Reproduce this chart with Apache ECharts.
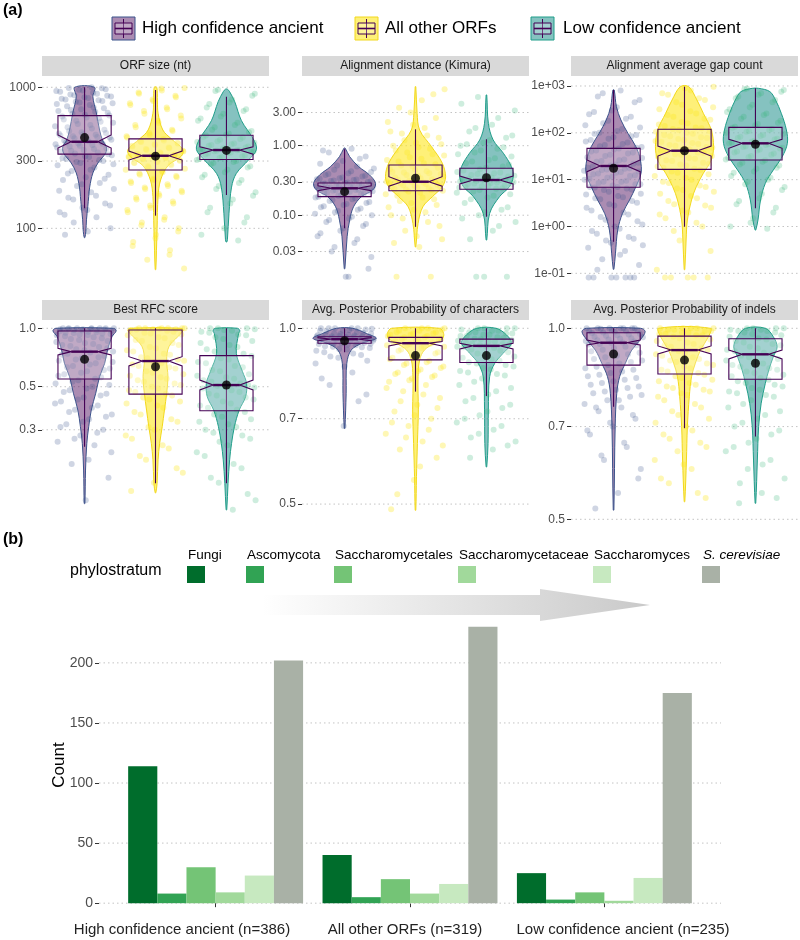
<!DOCTYPE html>
<html><head><meta charset="utf-8">
<script src="https://cdn.jsdelivr.net/npm/echarts@6/dist/echarts.min.js"></script>
<style>html,body{margin:0;padding:0;background:#fff}#c{width:800px;height:940px}</style>
</head><body><div id="c"></div><script>
// ---------------- DATA ----------------
const groups = ['High confidence ancient', 'All other ORFs', 'Low confidence ancient'];
const panelTitles = ['ORF size (nt)', 'Alignment distance (Kimura)', 'Alignment average gap count',
  'Best RFC score', 'Avg. Posterior Probability of characters', 'Avg. Posterior Probability of indels'];

// tick values and labels (log10-scaled axes)
const orfTicks = [100, 300, 1000];            const orfTickLabels = ['100', '300', '1000'];
const kimuraTicks = [0.03, 0.1, 0.3, 1, 3];   const kimuraTickLabels = ['0.03', '0.10', '0.30', '1.00', '3.00'];
const gapTicks = [0.1, 1, 10, 100, 1000];     const gapTickLabels = ['1e-01', '1e+00', '1e+01', '1e+02', '1e+03'];
const rfcTicks = [0.3, 0.5, 1];               const rfcTickLabels = ['0.3', '0.5', '1.0'];
const charTicks = [0.5, 0.7, 1];              const charTickLabels = ['0.5', '0.7', '1.0'];
const indelTicks = [0.5, 0.7, 1];             const indelTickLabels = ['0.5', '0.7', '1.0'];

// violin density profiles: [value, relative density]
const orfViolinHigh  = [[1000,0.31],[858,0.26],[658,0.37],[498,0.47],[423,0.56],[379,0.68],[342,0.66],[291,0.42],[247,0.26],[196,0.16],[168,0.13],[142,0.10],[115,0.06],[95,0.04],[86,0.01]];
const orfViolinOther = [[1000,0.04],[800,0.06],[655,0.08],[498,0.23],[430,0.5],[362,0.86],[325,0.81],[278,0.39],[220,0.16],[168,0.08],[100,0.05],[70,0.03],[51,0.01]];
const orfViolinLow   = [[970,0.03],[930,0.1],[790,0.26],[580,0.47],[430,0.84],[362,0.94],[305,0.69],[245,0.31],[196,0.16],[128,0.08],[83,0.03],[80,0.01]];
const kimViolinHigh  = [[0.92,0.02],[0.695,0.16],[0.5,0.44],[0.38,0.78],[0.288,0.97],[0.23,0.88],[0.185,0.53],[0.132,0.28],[0.085,0.16],[0.049,0.08],[0.017,0.01]];
const kimViolinOther = [[7.06,0.01],[2.93,0.05],[1.68,0.13],[0.97,0.5],[0.56,0.84],[0.358,0.94],[0.257,0.84],[0.185,0.53],[0.132,0.23],[0.076,0.08],[0.035,0.01]];
const kimViolinLow   = [[5.36,0.01],[2.1,0.06],[1.21,0.21],[0.78,0.53],[0.5,0.78],[0.358,0.84],[0.257,0.72],[0.185,0.41],[0.106,0.1],[0.044,0.01]];
const gapViolinHigh  = [[822,0.02],[361,0.09],[188,0.23],[97.7,0.45],[50.6,0.7],[26.3,0.84],[13.7,0.86],[7.08,0.7],[3.68,0.5],[1.91,0.28],[0.84,0.13],[0.27,0.06],[0.122,0.01]];
const gapViolinOther = [[966,0.13],[502,0.39],[261,0.59],[115,0.84],[50.6,0.91],[26.3,0.84],[13.7,0.59],[7.08,0.37],[3.68,0.22],[1.38,0.09],[0.515,0.05],[0.12,0.01]];
const gapViolinLow   = [[891,0.1],[760,0.45],[502,0.63],[261,0.81],[115,0.97],[59.7,1.0],[31,0.84],[16.1,0.56],[8.35,0.31],[3.68,0.16],[1.38,0.08],[0.84,0.01]];
const rfcViolinHigh  = [[1.0,0.9],[0.97,0.99],[0.906,0.86],[0.773,0.72],[0.66,0.63],[0.563,0.47],[0.463,0.35],[0.379,0.21],[0.311,0.13],[0.255,0.07],[0.186,0.03],[0.125,0.01]];
const rfcViolinOther = [[1.0,0.8],[0.97,0.86],[0.906,0.7],[0.804,0.42],[0.687,0.35],[0.563,0.39],[0.463,0.35],[0.379,0.28],[0.311,0.21],[0.255,0.13],[0.21,0.08],[0.159,0.05],[0.142,0.01]];
const rfcViolinLow   = [[1.0,0.35],[0.97,0.42],[0.94,0.38],[0.743,0.31],[0.6,0.5],[0.52,0.63],[0.444,0.6],[0.379,0.4],[0.311,0.25],[0.255,0.16],[0.21,0.1],[0.159,0.05],[0.116,0.01]];
const chrViolinHigh  = [[1.0,0.25],[0.98,0.68],[0.961,0.99],[0.943,0.55],[0.918,0.21],[0.871,0.07],[0.774,0.05],[0.674,0.01]];
const chrViolinOther = [[1.0,0.75],[0.98,0.88],[0.961,0.85],[0.943,0.6],[0.918,0.28],[0.883,0.13],[0.826,0.08],[0.774,0.08],[0.725,0.09],[0.635,0.06],[0.557,0.03],[0.488,0.01]];
const chrViolinLow   = [[1.0,0.3],[0.974,0.63],[0.943,0.78],[0.906,0.52],[0.871,0.26],[0.826,0.1],[0.725,0.06],[0.635,0.05],[0.579,0.01]];
const indViolinHigh  = [[1.0,0.85],[0.988,0.99],[0.958,0.83],[0.924,0.57],[0.881,0.37],[0.839,0.19],[0.79,0.1],[0.70,0.05],[0.517,0.01]];
const indViolinOther = [[1.0,0.81],[0.97,0.75],[0.924,0.5],[0.881,0.34],[0.839,0.22],[0.78,0.15],[0.70,0.09],[0.62,0.06],[0.533,0.01]];
const indViolinLow   = [[1.0,0.31],[0.97,0.56],[0.935,0.68],[0.902,0.56],[0.86,0.42],[0.819,0.31],[0.762,0.18],[0.70,0.1],[0.62,0.06],[0.53,0.01]];

// box stats: [lower whisker, Q1, notch low, median, notch high, Q3, upper whisker]
const orfBoxes = [[139,336,371,411,459,630,1000],[123,259,305,327,353,431,957],[172,308,336,359,379,457,858]];
const orfMeans = [440, 325, 357];
const kimBoxes = [[0.065,0.185,0.225,0.244,0.265,0.29,0.887],[0.068,0.225,0.262,0.303,0.358,0.527,1.72],[0.095,0.236,0.281,0.321,0.366,0.473,1.24]];
const kimMeans = [0.218, 0.34, 0.346];
const gapBoxes = [[0.47,6.87,14.8,19.6,26.3,46.6,822],[0.99,16.6,32,41.5,52.3,119,966],[2.44,26.3,46.8,59.7,72.8,131,891]];
const gapMeans = [17.5, 41.5, 56.9];
const rfcBoxes = [[0.245,0.548,0.729,0.758,0.789,0.968,1.0],[0.159,0.458,0.64,0.678,0.714,0.98,1.0],[0.159,0.376,0.481,0.51,0.541,0.723,1.0]];
const rfcMeans = [0.692, 0.634, 0.51];
const chrBoxes = [[0.91,0.943,0.952,0.958,0.963,0.967,1.0],[0.779,0.883,0.933,0.943,0.949,0.965,1.0],[0.766,0.874,0.922,0.933,0.943,0.958,1.0]];
const chrMeans = [0.952, 0.898, 0.898];
const indBoxes = [[0.752,0.875,0.941,0.949,0.958,0.984,1.0],[0.696,0.847,0.911,0.924,0.938,0.972,1.0],[0.675,0.831,0.895,0.91,0.924,0.963,1.0]];
const indMeans = [0.911, 0.891, 0.881];

// individual observations (read approximately)
const orfPtsHigh = [1000,990,970,950,930,900,880,860,840,820,800,780,760,720,690,660,640,620,600,580,560,540,520,500,480,470,460,450,440,430,420,410,400,395,390,380,370,360,350,345,340,330,320,310,300,290,280,270,255,240,230,220,210,200,190,180,165,150,140,130,120,110,100,95,90,
  985,960,940,915,890,870,850,830,810,790,770,750,735,710,700,680,670,650,630,610,590,570,550,530,510,490,475,465,455,445,435,425,415,405,398,385,375,365,355,335,325,315,305,295,285,260,245,225,205,185,170,160,145,135,125];
const orfPtsOther = [990,950,900,850,800,750,700,650,600,560,520,490,460,440,420,410,400,390,380,370,360,350,340,335,330,325,320,315,310,300,295,290,280,270,260,250,240,230,220,210,200,190,180,170,160,150,140,130,120,110,100,90,80,70,60,52,
  980,920,870,820,770,720,680,630,580,540,500,475,450,430,415,405,395,385,375,365,355,345,338,332,328,322,318,312,305,298,292,285,275,265,255,245,235,225,215,205,195,185,175,165,155,145,135,115,105,95,85,75,65];
const orfPtsLow = [960,900,820,760,700,650,600,560,520,490,470,455,440,425,410,400,390,380,370,365,360,355,350,345,340,330,320,310,300,290,275,260,240,220,200,180,160,140,120,100,90,82,
  940,870,780,720,680,620,580,540,500,480,460,445,430,415,405,395,385,375,368,362,358,352,348,342,335,325,315,305,295,285,270,250,230,210,190,170,150,130,110];
const kimPtsHigh = [0.9,0.8,0.7,0.6,0.55,0.5,0.45,0.42,0.4,0.38,0.36,0.34,0.33,0.32,0.31,0.3,0.29,0.28,0.27,0.265,0.26,0.255,0.25,0.245,0.24,0.235,0.23,0.225,0.22,0.215,0.21,0.2,0.19,0.18,0.17,0.16,0.15,0.14,0.13,0.12,0.11,0.1,0.09,0.08,0.07,0.06,0.05,0.04,0.03,0.017,0.013,
  0.85,0.65,0.52,0.47,0.43,0.39,0.37,0.35,0.335,0.325,0.315,0.305,0.295,0.285,0.275,0.268,0.262,0.258,0.252,0.248,0.242,0.238,0.232,0.228,0.222,0.218,0.212,0.205,0.195,0.185,0.175,0.165,0.155,0.145,0.135,0.125,0.115,0.105,0.095,0.085,0.075,0.065,0.055,0.045,0.035,0.025,0.013];
const kimPtsOther = [6.5,4.5,3.5,2.5,2.0,1.6,1.4,1.2,1.05,0.95,0.85,0.75,0.68,0.62,0.56,0.52,0.48,0.45,0.42,0.4,0.38,0.36,0.34,0.32,0.31,0.3,0.29,0.28,0.27,0.26,0.25,0.24,0.23,0.22,0.2,0.18,0.16,0.14,0.12,0.1,0.08,0.06,0.045,0.035,0.013,
  5.5,3.0,2.2,1.8,1.5,1.3,1.1,1.0,0.9,0.8,0.72,0.65,0.59,0.54,0.5,0.46,0.43,0.41,0.39,0.37,0.35,0.33,0.315,0.305,0.295,0.285,0.275,0.265,0.255,0.245,0.235,0.225,0.21,0.19,0.17,0.15,0.13,0.11,0.09,0.07,0.05,0.04,0.013];
const kimPtsLow = [5.0,3.2,2.0,1.6,1.3,1.1,1.0,0.9,0.8,0.7,0.62,0.56,0.5,0.46,0.42,0.4,0.38,0.36,0.34,0.33,0.32,0.31,0.3,0.29,0.28,0.27,0.26,0.25,0.24,0.22,0.2,0.18,0.15,0.12,0.1,0.08,0.06,0.045,0.013,0.013,
  4.0,2.5,1.8,1.4,1.2,1.05,0.95,0.85,0.75,0.66,0.59,0.53,0.48,0.44,0.41,0.39,0.37,0.35,0.335,0.325,0.315,0.305,0.295,0.285,0.275,0.265,0.255,0.245,0.23,0.21,0.19,0.17,0.13,0.11,0.09,0.07,0.013];
const gapPtsHigh = [800,600,450,300,250,200,160,130,110,95,85,75,65,58,52,48,44,40,36,32,29,26,24,22,20,18,17,16,15,14,13,12,11,10,9,8.5,8,7.5,7,6.5,6,5,4.5,4,3.5,3,2.5,2,1.6,1.3,1,0.8,0.6,0.5,0.4,0.25,0.12,0.082,0.082,0.082,0.082,
  700,500,350,280,220,180,145,120,100,90,80,70,62,55,50,46,42,38,34,30,27,25,23,21,19,17.5,16.5,15.5,14.5,13.5,12.5,11.5,10.5,9.5,9,8,7,6.8,6.2,5.5,4.8,4.2,3.8,3.2,2.8,2.2,1.8,1.4,1.1,0.9,0.7,0.55,0.45,0.35,0.3,0.2,0.15,0.082,0.082,0.082];
const gapPtsOther = [960,800,650,500,400,320,260,220,190,160,140,125,115,105,95,85,78,70,64,58,53,48,44,40,37,34,31,28,25,22,20,18,16,14,12,10,8.5,7,6,5,4,3,2.5,2,1.5,1,0.5,0.12,0.082,0.082,0.082,
  900,700,550,450,350,290,240,200,170,150,130,120,110,100,90,80,74,67,61,55,50,46,42,38,35,32,29,26,23,21,19,17,15,13,11,9,7.5,6.5,5.5,4.5,3.5,2.8,2.2,1.8,1.2,0.8,0.3,0.082,0.082];
const gapPtsLow = [880,820,700,600,500,400,320,260,220,180,155,135,120,110,100,90,82,75,68,62,57,52,48,44,40,36,32,29,26,23,20,17,14,11,9,7,5,3.5,2.5,1.5,1,0.9,
  850,750,650,550,450,350,280,240,200,165,145,128,115,105,95,86,78,72,65,60,55,50,46,42,38,34,30,27,24,21,18,15,12,10,8,6,4,3,2,1.2];
const rfcPtsHigh = [1,1,1,0.99,0.99,0.98,0.98,0.97,0.96,0.95,0.94,0.93,0.92,0.9,0.88,0.86,0.84,0.82,0.8,0.78,0.76,0.75,0.74,0.72,0.7,0.68,0.66,0.64,0.62,0.6,0.58,0.56,0.54,0.52,0.5,0.48,0.46,0.44,0.42,0.4,0.38,0.36,0.34,0.32,0.3,0.28,0.26,0.25,0.2,0.17,0.13,
  1,1,1,1,0.995,0.995,0.985,0.975,0.965,0.955,0.945,0.935,0.925,0.91,0.89,0.87,0.85,0.83,0.81,0.79,0.77,0.73,0.71,0.69,0.67,0.65,0.63,0.61,0.59,0.57,0.55,0.53,0.51,0.49,0.47,0.45,0.43,0.41,0.39,0.37,0.35,0.33,0.31,0.29,0.27,0.23,0.21];
const rfcPtsOther = [1,1,1,0.99,0.99,0.98,0.97,0.95,0.93,0.9,0.87,0.84,0.8,0.77,0.74,0.71,0.69,0.67,0.65,0.63,0.6,0.58,0.56,0.54,0.52,0.5,0.48,0.46,0.44,0.42,0.4,0.37,0.34,0.31,0.28,0.25,0.22,0.19,0.16,0.145,
  1,1,1,0.995,0.985,0.96,0.94,0.92,0.89,0.86,0.82,0.79,0.76,0.73,0.7,0.68,0.66,0.64,0.62,0.59,0.57,0.55,0.53,0.51,0.49,0.47,0.45,0.43,0.41,0.39,0.36,0.33,0.3,0.27,0.24,0.21,0.18];
const rfcPtsLow = [1,0.99,0.97,0.95,0.92,0.88,0.84,0.8,0.76,0.72,0.69,0.66,0.63,0.6,0.57,0.55,0.53,0.51,0.5,0.49,0.47,0.45,0.43,0.41,0.39,0.37,0.35,0.33,0.31,0.29,0.27,0.25,0.22,0.19,0.16,0.13,0.116,
  1,1,0.98,0.96,0.93,0.9,0.86,0.82,0.78,0.74,0.7,0.67,0.64,0.61,0.58,0.56,0.54,0.52,0.505,0.495,0.48,0.46,0.44,0.42,0.4,0.38,0.36,0.34,0.32,0.3,0.28,0.26,0.23,0.2,0.17,0.14];
const chrPtsHigh = [1,1,0.995,0.99,0.99,0.985,0.98,0.98,0.975,0.975,0.97,0.97,0.968,0.965,0.963,0.96,0.96,0.958,0.956,0.954,0.952,0.95,0.948,0.945,0.942,0.94,0.935,0.93,0.925,0.92,0.91,0.9,0.89,0.87,0.84,0.8,0.77,0.68,
  1,1,1,0.998,0.993,0.988,0.983,0.978,0.973,0.972,0.969,0.967,0.966,0.964,0.962,0.961,0.959,0.957,0.955,0.953,0.951,0.949,0.947,0.944,0.941,0.938,0.932,0.928,0.922,0.915,0.905,0.895,0.88,0.86,0.82,0.75];
const chrPtsOther = [1,1,0.99,0.985,0.98,0.975,0.97,0.965,0.96,0.955,0.95,0.945,0.94,0.935,0.93,0.92,0.91,0.9,0.89,0.88,0.87,0.86,0.85,0.84,0.83,0.82,0.81,0.8,0.78,0.76,0.74,0.72,0.7,0.68,0.66,0.64,0.62,0.6,0.55,0.49,
  1,1,0.995,0.99,0.985,0.98,0.975,0.97,0.965,0.96,0.955,0.95,0.945,0.94,0.935,0.93,0.925,0.915,0.905,0.895,0.885,0.875,0.865,0.855,0.845,0.835,0.825,0.815,0.79,0.77,0.75,0.73,0.71,0.69,0.67,0.65,0.63,0.58,0.52];
const chrPtsLow = [1,1,0.99,0.985,0.98,0.975,0.97,0.965,0.96,0.955,0.95,0.945,0.94,0.935,0.93,0.925,0.92,0.91,0.9,0.89,0.88,0.87,0.86,0.85,0.84,0.83,0.82,0.8,0.78,0.76,0.74,0.72,0.7,0.68,0.66,0.64,0.62,0.6,
  1,1,0.995,0.99,0.985,0.98,0.975,0.97,0.962,0.958,0.952,0.948,0.942,0.938,0.932,0.928,0.915,0.905,0.895,0.885,0.875,0.865,0.855,0.845,0.835,0.81,0.79,0.77,0.75,0.73,0.71,0.69,0.67,0.65,0.63];
const indPtsHigh = [1,1,1,0.995,0.99,0.99,0.985,0.98,0.975,0.97,0.965,0.96,0.955,0.95,0.945,0.94,0.93,0.92,0.91,0.9,0.89,0.88,0.87,0.86,0.85,0.84,0.83,0.82,0.81,0.8,0.79,0.78,0.77,0.76,0.75,0.74,0.72,0.7,0.68,0.65,0.62,0.6,0.55,0.52,
  1,1,1,1,0.998,0.993,0.988,0.983,0.978,0.973,0.968,0.963,0.958,0.953,0.948,0.943,0.935,0.925,0.915,0.905,0.895,0.885,0.875,0.865,0.855,0.845,0.835,0.825,0.815,0.805,0.795,0.785,0.77,0.75,0.73,0.71,0.69,0.66,0.63,0.58];
const indPtsOther = [1,1,0.995,0.99,0.985,0.98,0.975,0.97,0.96,0.95,0.94,0.93,0.92,0.91,0.9,0.89,0.88,0.87,0.86,0.85,0.84,0.83,0.82,0.81,0.8,0.79,0.78,0.76,0.74,0.72,0.7,0.68,0.66,0.64,0.62,0.6,0.57,0.54,
  1,1,1,0.995,0.99,0.985,0.98,0.975,0.965,0.955,0.945,0.935,0.925,0.915,0.905,0.895,0.885,0.875,0.865,0.855,0.845,0.835,0.825,0.815,0.805,0.795,0.785,0.77,0.75,0.73,0.71,0.69,0.67,0.65,0.61,0.58,0.55];
const indPtsLow = [1,1,0.995,0.99,0.985,0.98,0.97,0.96,0.95,0.94,0.93,0.92,0.91,0.9,0.89,0.88,0.87,0.86,0.85,0.84,0.83,0.82,0.81,0.8,0.79,0.78,0.77,0.75,0.73,0.71,0.69,0.67,0.65,0.62,0.6,0.58,0.55,0.53,
  1,1,0.995,0.99,0.985,0.975,0.965,0.955,0.945,0.935,0.925,0.915,0.905,0.895,0.885,0.875,0.865,0.855,0.845,0.835,0.825,0.815,0.805,0.795,0.785,0.76,0.74,0.72,0.7,0.68,0.66,0.64,0.61,0.57,0.54];

// panel (b): counts per phylostratum for each group
const barCategories = ['High confidence ancient (n=386)', 'All other ORFs (n=319)', 'Low confidence ancient (n=235)'];
const strata = ['Fungi', 'Ascomycota', 'Saccharomycetales', 'Saccharomycetaceae', 'Saccharomyces', 'S. cerevisiae'];
const countFungi = [114, 40, 25];
const countAscomycota = [8, 5, 3];
const countSaccharomycetales = [30, 20, 9];
const countSaccharomycetaceae = [9, 8, 2];
const countSaccharomyces = [23, 16, 21];
const countScerevisiae = [202, 230, 175];
const countTicks = [0, 50, 100, 150, 200];

// ---------------- BUILD ----------------
const L = Math.log10;
const FONT = '"Liberation Sans", Arial, Helvetica, sans-serif';
const fillCol = ['rgba(68,1,84,0.45)', 'rgba(253,231,37,0.62)', 'rgba(33,144,140,0.55)'];
const strokeCol = ['#3b528b', '#f2d81c', '#1f9e89'];
const ptCol = ['rgba(59,82,139,0.3)', 'rgba(253,231,37,0.42)', 'rgba(53,183,121,0.3)'];
const boxCol = '#440154';
const VW = 0.45, BHW = 0.375;

const panels = [
  {ticks: orfTicks, labels: orfTickLabels, range: [1.577, 3.073], violins: [orfViolinHigh, orfViolinOther, orfViolinLow], boxes: orfBoxes, means: orfMeans, pts: [orfPtsHigh, orfPtsOther, orfPtsLow]},
  {ticks: kimuraTicks, labels: kimuraTickLabels, range: [-2.047, 0.988], violins: [kimViolinHigh, kimViolinOther, kimViolinLow], boxes: kimBoxes, means: kimMeans, pts: [kimPtsHigh, kimPtsOther, kimPtsLow]},
  {ticks: gapTicks, labels: gapTickLabels, range: [-1.313, 3.192], violins: [gapViolinHigh, gapViolinOther, gapViolinLow], boxes: gapBoxes, means: gapMeans, pts: [gapPtsHigh, gapPtsOther, gapPtsLow]},
  {ticks: rfcTicks, labels: rfcTickLabels, range: [-0.993, 0.0428], violins: [rfcViolinHigh, rfcViolinOther, rfcViolinLow], boxes: rfcBoxes, means: rfcMeans, pts: [rfcPtsHigh, rfcPtsOther, rfcPtsLow]},
  {ticks: charTicks, labels: charTickLabels, range: [-0.330, 0.0142], violins: [chrViolinHigh, chrViolinOther, chrViolinLow], boxes: chrBoxes, means: chrMeans, pts: [chrPtsHigh, chrPtsOther, chrPtsLow]},
  {ticks: indelTicks, labels: indelTickLabels, range: [-0.3037, 0.0131], violins: [indViolinHigh, indViolinOther, indViolinLow], boxes: indBoxes, means: indMeans, pts: [indPtsHigh, indPtsOther, indPtsLow]}
];

const panelLeft = [42, 302, 571], panelW = 227, rowTop = [77, 320], rowH = [211, 201];
const stripTop = [56, 300], stripH = 20;

const grids = [], xAxes = [], yAxes = [], series = [], graphics = [];

function jitter(i, g) { return ((((i + 1) * 0.6180339887 + g * 0.37) % 1) - 0.5) * 0.84; }

panels.forEach((p, pi) => {
  const r = Math.floor(pi / 3), c = pi % 3;
  grids.push({left: panelLeft[c], top: rowTop[r], width: panelW, height: rowH[r]});
  xAxes.push({type: 'value', gridIndex: pi, min: 0.4, max: 3.6, show: false});
  const tv = p.ticks.map(L);
  yAxes.push({type: 'value', gridIndex: pi, min: p.range[0], max: p.range[1],
    axisLine: {show: false}, splitLine: {show: false},
    axisTick: {show: true, customValues: tv, length: 4, lineStyle: {color: '#333', width: 1}},
    axisLabel: {customValues: tv, margin: 6, color: '#4d4d4d', fontSize: 12, fontFamily: FONT,
      formatter: v => { const k = tv.findIndex(t => Math.abs(t - v) < 1e-6); return k >= 0 ? p.labels[k] : ''; }}});
  // grid lines
  series.push({type: 'custom', xAxisIndex: pi, yAxisIndex: pi, z: 1, silent: true,
    data: tv.map(t => [2, t]),
    renderItem: (pr, api) => { const y = api.value(1); const a = api.coord([0.4, y]), b = api.coord([3.6, y]);
      return {type: 'line', shape: {x1: a[0], y1: a[1], x2: b[0], y2: b[1]}, style: {stroke: '#c4c4c4', lineWidth: 1, lineDash: [1.5, 3]}}; }});
  // violins
  p.violins.forEach((vd, g) => {
    const gx = g + 1;
    series.push({type: 'custom', xAxisIndex: pi, yAxisIndex: pi, z: 2, silent: true,
      data: [[gx, L(vd[0][0])]],
      renderItem: (pr, api) => {
        const pts = [];
        vd.forEach(d => pts.push(api.coord([gx + d[1] * VW, L(d[0])])));
        for (let i = vd.length - 1; i >= 0; i--) pts.push(api.coord([gx - vd[i][1] * VW, L(vd[i][0])]));
        return {type: 'polygon', shape: {points: pts, smooth: 0.35}, style: {fill: fillCol[g], stroke: strokeCol[g], lineWidth: 1}};
      }});
  });
  // jittered points
  p.pts.forEach((arr, g) => {
    series.push({type: 'scatter', xAxisIndex: pi, yAxisIndex: pi, z: 3, silent: true, symbolSize: 6,
      itemStyle: {color: ptCol[g]}, data: arr.map((v, i) => [g + 1 + jitter(i, g), L(v)])});
  });
  // notched boxes
  series.push({type: 'custom', xAxisIndex: pi, yAxisIndex: pi, z: 4, silent: true,
    data: p.boxes.map((b, g) => [g + 1].concat(b.map(L))),
    renderItem: (pr, api) => {
      const x = api.value(0); const v = [1, 2, 3, 4, 5, 6, 7].map(k => api.value(k));
      const [lw, q1, nl, md, nh, q3, uw] = v;
      const C = (dx, y) => api.coord([x + dx, y]);
      const poly = [C(-BHW, q3), C(BHW, q3), C(BHW, nh), C(BHW / 2, md), C(BHW, nl), C(BHW, q1), C(-BHW, q1), C(-BHW, nl), C(-BHW / 2, md), C(-BHW, nh)];
      const wt = C(0, uw), wb = C(0, lw), m1 = C(-BHW / 2, md), m2 = C(BHW / 2, md);
      return {type: 'group', children: [
        {type: 'line', shape: {x1: wt[0], y1: wt[1], x2: wb[0], y2: wb[1]}, style: {stroke: boxCol, lineWidth: 1.1}},
        {type: 'polygon', shape: {points: poly}, style: {fill: 'rgba(255,255,255,0.25)', stroke: boxCol, lineWidth: 1.1}},
        {type: 'line', shape: {x1: m1[0], y1: m1[1], x2: m2[0], y2: m2[1]}, style: {stroke: boxCol, lineWidth: 2.4}}
      ]};
    }});
  // means
  series.push({type: 'scatter', xAxisIndex: pi, yAxisIndex: pi, z: 5, silent: true, symbolSize: 9,
    itemStyle: {color: '#000'}, data: p.means.map((m, g) => [g + 1, L(m)])});
  // strip
  graphics.push({type: 'rect', left: panelLeft[c], top: stripTop[r], shape: {width: panelW, height: stripH}, style: {fill: '#d9d9d9'}, silent: true});
  graphics.push({type: 'text', x: panelLeft[c] + panelW / 2, y: stripTop[r] + stripH / 2,
    style: {text: panelTitles[pi], font: '12px ' + FONT, fill: '#1a1a1a', textAlign: 'center', textVerticalAlign: 'middle'}, silent: true});
});

// ---- panel (b) bar chart ----
const BI = 6;
grids.push({left: 99, top: 613, width: 622, height: 304});
xAxes.push({type: 'value', gridIndex: BI, min: 0.4, max: 3.6, axisLine: {show: false}, splitLine: {show: false},
  axisTick: {show: true, customValues: [1, 2, 3], length: 4, lineStyle: {color: '#333'}},
  axisLabel: {show: false}});
yAxes.push({type: 'value', gridIndex: BI, min: -11.5, max: 241.5, axisLine: {show: false}, splitLine: {show: false},
  name: 'Count', nameLocation: 'middle', nameGap: 31, nameRotate: 90, nameMoveOverlap: false,
  nameTextStyle: {fontSize: 17, color: '#000', fontFamily: FONT},
  axisTick: {show: true, customValues: countTicks, length: 4, lineStyle: {color: '#333'}},
  axisLabel: {customValues: countTicks, margin: 6, color: '#4d4d4d', fontSize: 14, fontFamily: FONT}});
series.push({type: 'custom', xAxisIndex: BI, yAxisIndex: BI, z: 1, silent: true,
  data: countTicks.map(t => [2, t]),
  renderItem: (pr, api) => { const y = api.value(1); const a = api.coord([0.4, y]), b = api.coord([3.6, y]);
    return {type: 'line', shape: {x1: a[0], y1: a[1], x2: b[0], y2: b[1]}, style: {stroke: '#c4c4c4', lineWidth: 1, lineDash: [1.5, 3]}}; }});
const stratumCounts = [countFungi, countAscomycota, countSaccharomycetales, countSaccharomycetaceae, countSaccharomyces, countScerevisiae];
const stratumColors = ['#006d2c', '#31a354', '#74c476', '#a1d99b', '#c7e9c0', '#a9b1a6'];
const BW = 0.15;
stratumCounts.forEach((arr, s) => {
  series.push({type: 'custom', name: strata[s], xAxisIndex: BI, yAxisIndex: BI, z: 3,
    data: arr.map((v, gi) => [gi + 1, v]),
    renderItem: (pr, api) => {
      const g = api.value(0), v = api.value(1);
      const x0 = g - 3 * BW + s * BW;
      const p0 = api.coord([x0, 0]), p1 = api.coord([x0 + BW, v]);
      return {type: 'rect', shape: {x: p0[0], y: p1[1], width: p1[0] - p0[0], height: p0[1] - p1[1]}, style: {fill: stratumColors[s]}};
    }});
});
// category labels under the bar groups (placed as in the reference)
const barLabelX = [182, 405, 623];
barCategories.forEach((t, k) => graphics.push({type: 'text', x: barLabelX[k], y: 930, silent: true,
  style: {text: t, font: '15px ' + FONT, fill: '#222', textAlign: 'center', textVerticalAlign: 'middle'}}));

// ---- titles & legends ----
graphics.push({type: 'text', left: 3, top: 3, style: {text: '(a)', font: 'bold 16px ' + FONT, fill: '#000'}});
graphics.push({type: 'text', left: 3, top: 532, style: {text: '(b)', font: 'bold 16px ' + FONT, fill: '#000'}});
const legAIcon = [112, 355, 531], legAText = [142, 385, 563];
groups.forEach((gname, g) => {
  const x = legAIcon[g], y = 17;
  graphics.push({type: 'group', silent: true, children: [
    {type: 'rect', shape: {x: x, y: y, width: 23, height: 23}, style: {fill: fillCol[g], stroke: strokeCol[g], lineWidth: 1}},
    {type: 'line', shape: {x1: x + 11.5, y1: y + 2, x2: x + 11.5, y2: y + 21}, style: {stroke: boxCol, lineWidth: 1}},
    {type: 'rect', shape: {x: x + 3, y: y + 6, width: 17, height: 11}, style: {fill: 'rgba(255,255,255,0.25)', stroke: boxCol, lineWidth: 1}},
    {type: 'line', shape: {x1: x + 3, y1: y + 11.5, x2: x + 20, y2: y + 11.5}, style: {stroke: boxCol, lineWidth: 1.6}}
  ]});
  graphics.push({type: 'text', x: legAText[g], y: y + 11.5, silent: true,
    style: {text: gname, font: '17px ' + FONT, fill: '#000', textVerticalAlign: 'middle'}});
});
graphics.push({type: 'text', x: 70, y: 571, silent: true, style: {text: 'phylostratum', font: '16px ' + FONT, fill: '#000', textVerticalAlign: 'middle'}});
const legBX = [187, 246, 334, 458, 593, 702];
strata.forEach((s, k) => {
  graphics.push({type: 'rect', silent: true, shape: {x: legBX[k], y: 566, width: 18, height: 17}, style: {fill: stratumColors[k]}});
  graphics.push({type: 'text', x: legBX[k] + 1, y: 555, silent: true,
    style: {text: s, font: (k === 5 ? 'italic ' : '') + '13.5px ' + FONT, fill: '#000', textVerticalAlign: 'middle'}});
});
graphics.push({type: 'polygon', silent: true, z: -1,
  shape: {points: [[262, 595], [540, 595], [540, 589], [650, 605], [540, 621], [540, 615], [262, 615]]},
  style: {fill: {type: 'linear', x: 0, y: 0, x2: 1, y2: 0, colorStops: [{offset: 0, color: 'rgba(255,255,255,1)'}, {offset: 1, color: '#c9c9c9'}]}}});

const chart = echarts.init(document.getElementById('c'), null, {renderer: 'canvas', width: 800, height: 940});
chart.setOption({animation: false, backgroundColor: '#fff', grid: grids, xAxis: xAxes, yAxis: yAxes, series: series, graphic: graphics});
</script></body></html>
